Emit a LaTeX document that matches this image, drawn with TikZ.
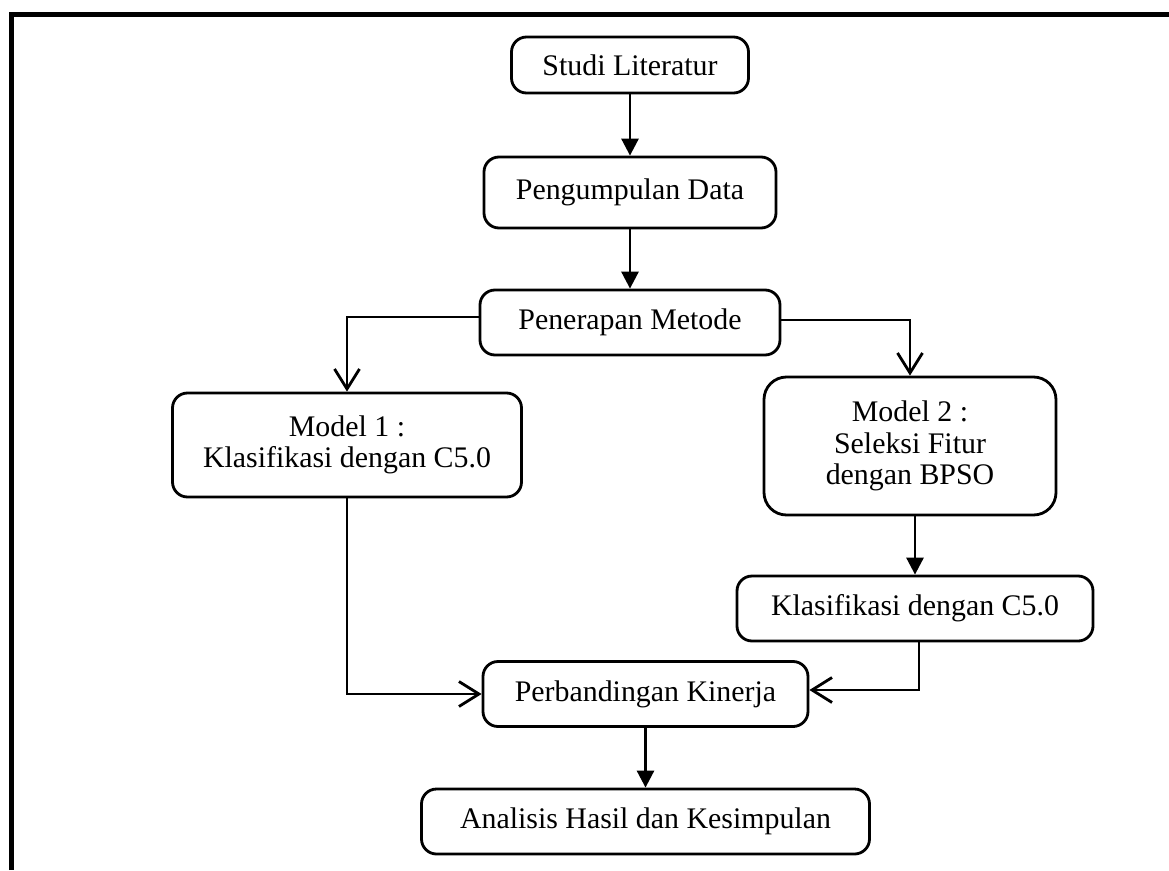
\documentclass[tikz,border=0pt]{standalone}
\usepackage{fontspec}
\setmainfont{Liberation Serif}
\usetikzlibrary{arrows.meta,calc}
\tikzset{
    block/.style = {draw, rectangle, rounded corners=0.3cm, line width=1.6pt,
        minimum height=1.3cm,
        minimum width=6cm, align=center,
        font=\fontsize{17}{18}\selectfont},
    arrow/.style = {draw, line width=1.6pt, -{Triangle[length=0.34cm,width=0.34cm]}},
    openarrow/.style = {draw, line width=1.6pt, -{Straight Barb[length=0.4cm,width=0.5cm]}}
}

\begin{document}
\begin{tikzpicture}[auto]
        \useasboundingbox (0,0) rectangle (23.38,-17.4);
        \draw[line width=3.4pt] (0.23,-17.4) -- (0.23,-0.29) -- (23.38,-0.29);
        \node [block,minimum width=4.74cm,minimum height=1.12cm] at (12.6,-1.3) (studi) {Studi Literatur};
        \node [block,below of=studi,node distance=2.55cm,minimum width=5.84cm,minimum height=1.42cm] (data) {Pengumpulan Data};
        \draw[arrow] (studi) -- (data);
        \node [block,below of=data,node distance=2.6cm] (metode) {Penerapan Metode};
        \draw[arrow] (data) -- (metode);
        \node [block,below of=metode,node distance=2.45cm,xshift=-5.66cm,minimum width=6.98cm,minimum height=2.08cm] (model1) {Model 1 :\\Klasifikasi dengan C5.0};
        \node [block,below of=metode,node distance=2.47cm,xshift=5.6cm,minimum width=5.84cm,minimum height=2.76cm,rounded corners=0.45cm] (model2) {Model 2 :\\Seleksi Fitur\\dengan BPSO};
        \draw[openarrow] ([yshift=0.11cm]metode.west) -| (model1.north);
        \draw[openarrow] ([yshift=0.05cm]metode.east) -| (model2.north);
        \node [block,below of=model2,node distance=3.25cm,xshift=0.1cm,minimum width=7.12cm] (c50) {Klasifikasi dengan C5.0};
        \draw[arrow] (model2.south -| c50.north) -- (c50.north);
        \node [block,below of=metode,node distance=7.43cm,xshift=0.31cm,minimum width=6.5cm] (kinerja) {Perbandingan Kinerja};
        \draw[openarrow] (model1.south) |- (kinerja.west);
        \draw[openarrow] ([xshift=0.08cm]c50.south) |- ([yshift=0.08cm]kinerja.east);
        \node [block,below of=kinerja,node distance=2.55cm,minimum width=8.96cm] (hasil) {Analisis Hasil dan Kesimpulan};
        \draw[arrow] (kinerja) -- (hasil);
    \end{tikzpicture}
\end{document}
